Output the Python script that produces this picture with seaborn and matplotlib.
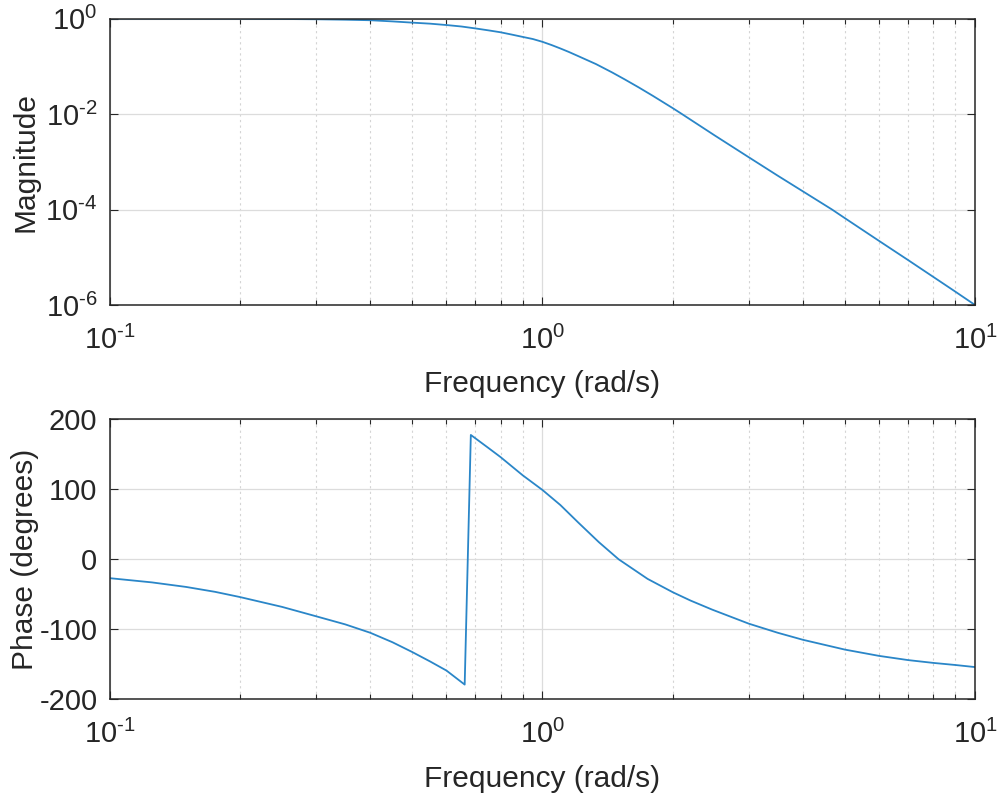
import matplotlib
matplotlib.use("Agg")
import matplotlib.pyplot as plt
import matplotlib.ticker as mticker
import seaborn as sns
import pandas as pd
import numpy as np

# values
mag_freq = [0.1, 0.2, 0.3, 0.35, 0.4, 0.45, 0.5, 0.55, 0.6, 0.65, 0.7, 0.75, 0.8,
            0.85, 0.9, 0.95, 1.0, 1.05, 1.1, 1.15, 1.21, 1.33, 1.45, 1.55, 1.67, 1.8,
            2.0, 2.09, 2.5, 3.0, 3.5, 4.0, 4.67, 5.0, 6.0, 7.0, 8.0, 9.0, 10.0]
mag_vals = [1.0, 0.99, 0.965, 0.945, 0.92, 0.87, 0.82, 0.78, 0.73, 0.68, 0.62, 0.565, 0.515,
            0.46, 0.412, 0.372, 0.325, 0.278, 0.236, 0.2, 0.163, 0.111, 0.074, 0.053, 0.036,
            0.024, 0.0133, 0.0103, 3.57e-3, 1.24e-3, 5.1e-4, 2.4e-4, 1.0e-4, 6.6e-5,
            2.2e-5, 8.75e-6, 3.9e-6, 1.91e-6, 1.0e-6]

phase_freq = [0.1, 0.125, 0.15, 0.175, 0.2, 0.25, 0.3, 0.35, 0.4, 0.45, 0.5, 0.55, 0.6,
              0.661, 0.683, 0.75, 0.8, 0.9, 1.0, 1.1, 1.21, 1.35, 1.5, 1.75, 2.0, 2.2,
              2.47, 3.0, 3.5, 4.0, 5.0, 6.0, 7.0, 8.0, 9.0, 10.0]
phase_vals = [-27, -33, -39.5, -46.5, -54, -68, -81.5, -93, -105, -118.5, -132.5, -146, -159,
              -179, 177.6, 159, 146, 120, 99, 77.5, 52.5, 24.5, 0, -28, -47, -59,
              -72, -92, -105, -115, -129, -138, -144, -148, -151, -154]

xlabel = "Frequency (rad/s)"
mag_ticks = [1e-6, 1e-4, 1e-2, 1e0]
phase_ticks = [-200, -100, 0, 100, 200]

ink = "#262626"
line_color = "#2a86c8"


def pow10_label(v, pos):
    e = int(round(np.log10(v)))
    if e < 0:
        return r"$10^{\text{-}%d}$" % (-e)
    return r"$10^{%d}$" % e


sns.set_theme(style="ticks")
plt.rcParams["font.family"] = ["Liberation Sans", "DejaVu Sans"]
plt.rcParams["mathtext.fontset"] = "custom"
plt.rcParams["mathtext.rm"] = "Liberation Sans"
plt.rcParams["mathtext.it"] = "Liberation Sans"
plt.rcParams["mathtext.default"] = "regular"
plt.rcParams["axes.unicode_minus"] = False

fig = plt.figure(figsize=(9.99, 7.98), dpi=100)
ax1 = fig.add_axes([0.110, 0.6178, 0.866, 0.359])
ax2 = fig.add_axes([0.110, 0.1237, 0.866, 0.3509])

mag_df = pd.DataFrame({"freq": mag_freq, "mag": mag_vals})
phase_df = pd.DataFrame({"freq": phase_freq, "phase": phase_vals})

sns.lineplot(data=mag_df, x="freq", y="mag", ax=ax1, color=line_color,
             linewidth=1.3, estimator=None, sort=False)
sns.lineplot(data=phase_df, x="freq", y="phase", ax=ax2, color=line_color,
             linewidth=1.3, estimator=None, sort=False)

ax1.set_xscale("log")
ax1.set_yscale("log")
ax1.set_ylim(1e-6, 1e0)
ax1.set_yticks(mag_ticks)
ax1.yaxis.set_minor_locator(mticker.NullLocator())
ax1.yaxis.set_major_formatter(mticker.FuncFormatter(pow10_label))
ax1.set_ylabel("Magnitude", labelpad=4)

ax2.set_xscale("log")
ax2.set_ylim(-200, 200)
ax2.set_yticks(phase_ticks)
ax2.set_ylabel("Phase (degrees)", labelpad=0)

for ax in (ax1, ax2):
    ax.set_xlim(0.1, 10)
    ax.xaxis.set_major_locator(mticker.LogLocator(base=10))
    ax.xaxis.set_major_formatter(mticker.FuncFormatter(pow10_label))
    ax.xaxis.set_minor_locator(mticker.LogLocator(base=10, subs=range(2, 10)))
    ax.xaxis.set_minor_formatter(mticker.NullFormatter())
    ax.set_xlabel(xlabel, fontsize=21.5, color=ink, labelpad=11)
    ax.yaxis.label.set_size(21.5)
    ax.yaxis.label.set_color(ink)
    ax.grid(which="major", color="#dcdcdc", linewidth=0.9, linestyle="-")
    ax.grid(which="minor", axis="x", color="#d4d4d4", linewidth=0.8, linestyle=(0, (2, 3)))
    ax.tick_params(which="both", direction="in", top=True, right=True,
                   colors=ink, labelsize=21, width=0.8)
    ax.tick_params(which="major", length=6)
    ax.tick_params(axis="y", which="major", pad=9)
    ax.tick_params(axis="x", which="major", pad=15)
    ax.tick_params(which="minor", length=3.5)
    for side in ax.spines.values():
        side.set_visible(True)
        side.set_color(ink)
        side.set_linewidth(1.1)
    ax.set_axisbelow(True)

fig.savefig("out.png", dpi=100, facecolor="white")
